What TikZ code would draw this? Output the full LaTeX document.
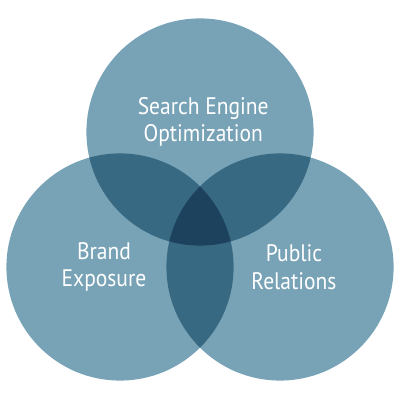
\documentclass[tikz,border=0pt]{standalone}
\usepackage{fontspec}
\setmainfont[FakeStretch=0.9]{PT Sans}
\definecolor{vennlight}{HTML}{78A3B7}
\definecolor{vennmid}{HTML}{386983}
\definecolor{venndark}{HTML}{1D425E}
\begin{document}
\begin{tikzpicture}[every node/.style={font=\fontsize{17}{19.5}\selectfont, text=white, align=center},
    venn/.style={circle, fill=vennlight, minimum size=5.68cm, inner sep=0pt}]
            \useasboundingbox (0,0) rectangle (10,10);
            \node[venn] (seo) at (5,6.7) {}; \node[venn] (brand) at (3,3.325) {}; \node[venn] (pr) at (7,3.325) {};
            % pairwise overlaps
            \begin{scope} \clip (seo.center) circle (2.84); \fill[vennmid] (brand.center) circle (2.84); \fill[vennmid] (pr.center) circle (2.84); \end{scope}
            \begin{scope} \clip (brand.center) circle (2.84); \fill[vennmid] (pr.center) circle (2.84); \end{scope}
            % centre
            \begin{scope} \clip (seo.center) circle (2.84); \clip (brand.center) circle (2.84); \fill[venndark] (pr.center) circle (2.84); \end{scope}
            \node (seol) at (5.08,6.95) {Search Engine\\Optimization};
            \node (brandl) at (2.6,3.32) {Brand\\Exposure};
            \node (prl) at (7.35,3.32) {Public\\Relations};
        \end{tikzpicture}
\end{document}
